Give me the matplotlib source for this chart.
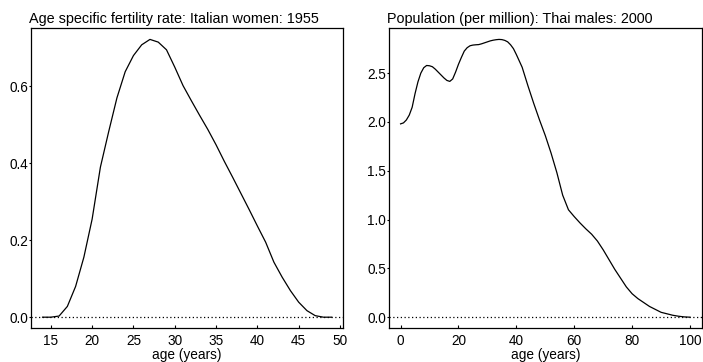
import matplotlib
matplotlib.use("Agg")
import matplotlib.pyplot as plt

plt.rcParams["font.family"] = ["Liberation Sans", "DejaVu Sans"]

# Age-specific fertility rate, Italian women, 1955
fert_age = [14, 15, 16, 17, 18, 19, 20, 21, 22, 23, 24, 25, 26, 27, 28, 29, 30, 31,
            32, 33, 34, 35, 36, 37, 38, 39, 40, 41, 42, 43, 44, 45, 46, 47, 48, 49]
fert_rate = [0.000, 0.000, 0.003, 0.028, 0.080, 0.156, 0.255, 0.390, 0.482, 0.570,
             0.638, 0.680, 0.708, 0.722, 0.715, 0.695, 0.650, 0.602, 0.563, 0.525,
             0.488, 0.448, 0.405, 0.364, 0.322, 0.280, 0.237, 0.195, 0.143, 0.104,
             0.069, 0.039, 0.017, 0.004, 0.000, 0.000]

# Population (per million), Thai males, 2000
pop_age = [0, 1, 2, 3, 4, 5, 6, 7, 8, 9, 10, 11, 12, 13, 14, 15, 16, 17, 18, 19,
           20, 21, 22, 23, 24, 25, 26, 27, 28, 29, 30, 31, 32, 33, 34, 35, 36, 37,
           38, 39, 40, 42, 44, 46, 48, 50, 52, 54, 56, 58, 60, 62, 64, 66, 68, 70,
           72, 74, 76, 78, 80, 82, 84, 86, 88, 90, 92, 94, 96, 98, 100]
pop_val = [1.98, 1.99, 2.02, 2.07, 2.15, 2.29, 2.41, 2.50, 2.555, 2.578, 2.575,
           2.565, 2.54, 2.51, 2.48, 2.45, 2.425, 2.415, 2.44, 2.51, 2.59, 2.66,
           2.725, 2.76, 2.78, 2.787, 2.79, 2.792, 2.80, 2.81, 2.82, 2.83, 2.837,
           2.842, 2.845, 2.843, 2.835, 2.82, 2.79, 2.75, 2.69, 2.56, 2.37, 2.19,
           2.02, 1.86, 1.68, 1.48, 1.25, 1.10, 1.03, 0.965, 0.905, 0.85, 0.78,
           0.69, 0.59, 0.49, 0.40, 0.31, 0.24, 0.19, 0.15, 0.11, 0.08, 0.05,
           0.035, 0.02, 0.01, 0.003, 0.0]

fert_xticks = [15, 20, 25, 30, 35, 40, 45, 50]
fert_yticks = [0.0, 0.2, 0.4, 0.6]
pop_xticks = [0, 20, 40, 60, 80, 100]
pop_yticks = [0.0, 0.5, 1.0, 1.5, 2.0, 2.5]

W, H = 703, 362
fig = plt.figure(figsize=(W / 100, H / 100), dpi=100)
FS = 9.8
TITLE_FS = 10.4


def panel(rect, x, y, xticks, yticks, title, yfmt):
    l, t, r, b = rect
    ax = fig.add_axes([l / W, 1 - b / H, (r - l) / W, (b - t) / H])
    ax.plot(x, y, color="black", lw=0.9)
    ax.margins(x=0.04, y=0.04)
    ax.axhline(0, color="black", lw=0.9, ls=(0, (1, 2)))
    ax.set_xticks(xticks)
    ax.set_yticks(yticks)
    ax.set_yticklabels([yfmt.format(v) for v in yticks])
    ax.tick_params(axis="x", direction="in", length=2.5, width=0.8,
                   labelsize=FS, pad=4)
    ax.tick_params(axis="y", direction="out", length=1.6, width=0.8,
                   labelsize=FS, pad=0.5)
    for s in ax.spines.values():
        s.set_linewidth(0.9)
    ax.set_xlabel("age (years)", fontsize=FS, labelpad=0)
    ax.text(-0.006, 1.018, title, transform=ax.transAxes, fontsize=TITLE_FS,
            ha="left", va="baseline")
    return ax


panel((31, 28.3, 343.3, 328.3), fert_age, fert_rate, fert_xticks, fert_yticks,
      "Age specific fertility rate: Italian women: 1955", "{:.1f}")
panel((389, 28.3, 701.6, 328.3), pop_age, pop_val, pop_xticks, pop_yticks,
      "Population (per million): Thai males: 2000", "{:.1f}")

fig.savefig("out.png", dpi=100)
